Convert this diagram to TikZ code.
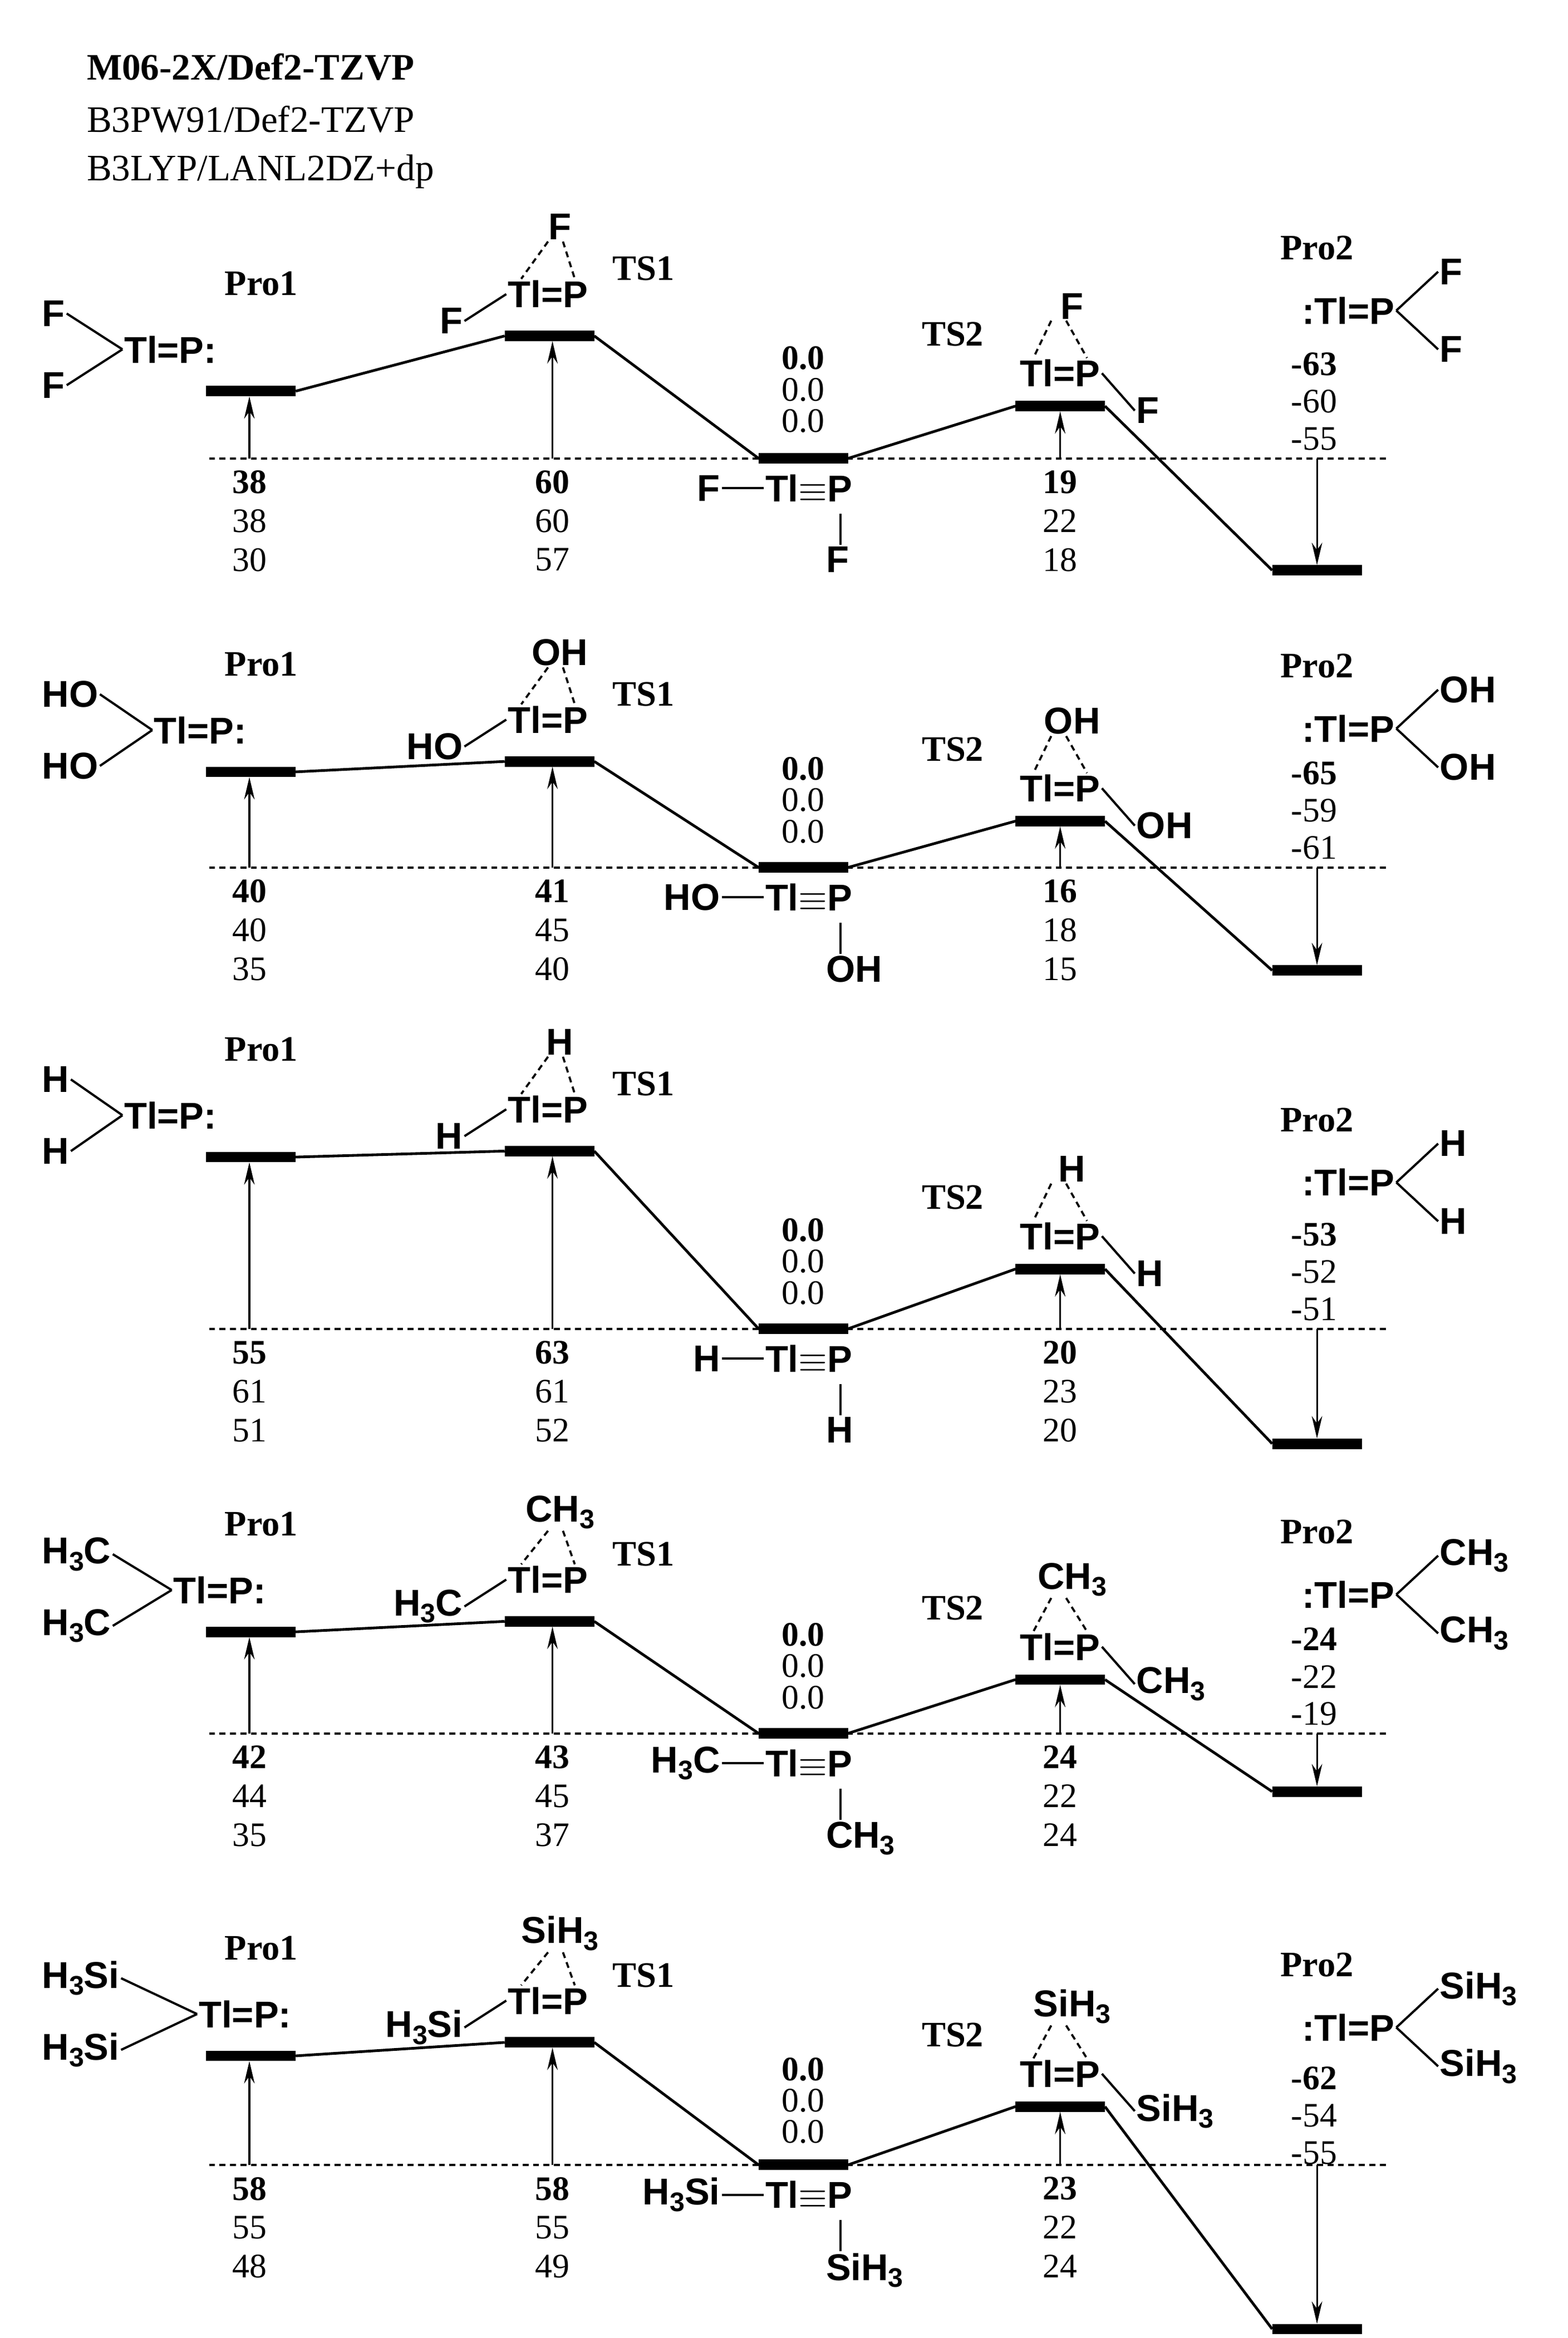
\documentclass[tikz,border=0pt]{standalone}
\usepackage{fontspec}
\setmainfont{Liberation Serif}
\newfontfamily\chemf{Liberation Sans}
\usetikzlibrary{calc,arrows.meta}
\newcommand{\sbt}[1]{\raisebox{-0.35ex}{\fontsize{18}{18}\selectfont #1}}
\tikzset{
 chem/.style={font=\chemf\bfseries\fontsize{25}{25}\selectfont, inner sep=1pt},
 num/.style={font=\fontsize{23}{23}\selectfont, inner sep=0pt},
 bnum/.style={font=\bfseries\fontsize{23}{23}\selectfont, inner sep=0pt},
 lab/.style={font=\bfseries\fontsize{24}{24}\selectfont, inner sep=0pt},
 bar/.style={line width=7pt},
 conn/.style={line width=1.8pt},
 bond/.style={line width=1.5pt},
 dbond/.style={line width=1.4pt, dash pattern=on 4pt off 3pt},
 arr/.style={line width=1.2pt, -{Stealth[length=15pt,width=7pt]}},
 base/.style={line width=1.5pt, dash pattern=on 4pt off 3pt}
}
\newcommand{\subL}{}\newcommand{\subR}{}
\newcommand{\panel}[8]{%
 \coordinate (#1dl) at (140,#2); \coordinate (#1dr) at (930,#2);
 \draw[base] (#1dl) -- (#1dr);
 \coordinate (#1aL) at (138,#3); \coordinate (#1aR) at (198,#3);
 \coordinate (#1bL) at (338,#4); \coordinate (#1bR) at (398,#4);
 \coordinate (#1cL) at (508,#2); \coordinate (#1cR) at (568,#2);
 \coordinate (#1dL) at (680,#5); \coordinate (#1dR) at (740,#5);
 \coordinate (#1eL) at (852,#6); \coordinate (#1eR) at (912,#6);
 \foreach \q in {a,b,c,d,e}{\draw[bar] (#1\q L) -- (#1\q R);}
 \draw[conn] (#1aR) -- (#1bL); \draw[conn] (#1bR) -- (#1cL);
 \draw[conn] (#1cR) -- (#1dL); \draw[conn] (#1dR) -- (#1eL);
 \coordinate (#1xa) at (167,#2); \coordinate (#1ya) at (167,#3+3.5);
 \coordinate (#1xb) at (370,#2); \coordinate (#1yb) at (370,#4+3.5);
 \coordinate (#1xd) at (710,#2); \coordinate (#1yd) at (710,#5+3.5);
 \coordinate (#1xe) at (882,#2); \coordinate (#1ye) at (882,#6-3.5);
 \draw[arr] (#1xa) -- (#1ya); \draw[arr] (#1xb) -- (#1yb);
 \draw[arr] (#1xd) -- (#1yd); \draw[arr] (#1xe) -- (#1ye);
 \node[lab] (#1Lp1) at (175,#3-72) {Pro1};
 \node[lab] (#1Lp2) at (882,#7-42) {Pro2};
 % Pro1
 \node[chem,anchor=west] (#1s1) at (27,#3-52) {\subL};
 \node[chem,anchor=west] (#1s2) at (27,#3-4) {\subL};
 \node[chem,anchor=west] (#1m1) at (27+#8,#3-28) {Tl=P:};
 \draw[bond] (#1s1.east) -- (#1m1.west); \draw[bond] (#1s2.east) -- (#1m1.west);
 % TS1
 \node[chem] (#1m2) at (367,#4-28) {Tl=P};
 \node[chem] (#1t2) at (375,#4-73) {\subR};
 \node[chem,anchor=east] (#1u2) at ($(#1m2.west)+(-28,18)$) {\subL};
 \draw[bond] (#1u2.east) -- (#1m2.west);
 \draw[dbond] ($(#1t2.south)+(-8,0)$) -- ($(#1m2.north west)+(10,0)$);
 \draw[dbond] ($(#1t2.south)+(2,0)$) -- ($(#1m2.north east)+(-10,0)$);
 \node[lab,anchor=west] (#1Lt1) at (410,#4-45) {TS1};
 % Int
 \node[chem,anchor=east] (#1m3) at (572,#2+20) {Tl\ensuremath{\equiv}P};
 \node[chem,anchor=east] (#1u3) at ($(#1m3.west)+(-28,0)$) {\subL};
 \draw[bond] (#1u3.east) -- (#1m3.west);
 \node[chem,anchor=north west] (#1v3) at (552,#2+58) {\subR};
 \draw[bond] (563,#2+37) -- (563,#2+58);
 % TS2
 \node[chem] (#1m4) at (710,#5-22) {Tl=P};
 \node[chem] (#1t4) at (718,#5-67) {\subR};
 \node[chem,anchor=west] (#1u4) at ($(#1m4.east)+(22,25)$) {\subR};
 \draw[bond] (#1m4.east) -- (#1u4.west);
 \draw[dbond] ($(#1t4.south)+(-14,0)$) -- ($(#1m4.north west)+(10,0)$);
 \draw[dbond] ($(#1t4.south)+(-4,0)$) -- ($(#1m4.north east)+(-10,0)$);
 \node[lab] (#1Lt2) at (638,#5-48) {TS2};
 % Pro2
 \node[chem] (#1m5) at (903,#7) {:Tl=P};
 \node[chem,anchor=west] (#1s5) at ($(#1m5.east)+(28,-26)$) {\subR};
 \node[chem,anchor=west] (#1r5) at ($(#1m5.east)+(28,26)$) {\subR};
 \draw[bond] (#1m5.east) -- (#1s5.west); \draw[bond] (#1m5.east) -- (#1r5.west);
}
\newcommand{\nums}[7][26]{%
 \node[bnum] (#2n1) at (#3,#4) {#5};
 \node[num] (#2n2) at (#3,#4+#1) {#6};
 \node[num] (#2n3) at (#3,#4+2*#1) {#7};
}
\begin{document}
\begin{tikzpicture}[x=1pt,y=-1pt]
\useasboundingbox (0,0) rectangle (1050,1566);
\node[anchor=west,font=\bfseries\fontsize{25}{25}\selectfont,inner sep=0pt] (h1) at (58,45) {M06-2X/Def2-TZVP};
\node[anchor=west,font=\fontsize{25}{25}\selectfont,inner sep=0pt] (h2) at (58,80) {B3PW91/Def2-TZVP};
\node[anchor=west,font=\fontsize{25}{25}\selectfont,inner sep=0pt] (h3) at (58,115) {B3LYP/LANL2DZ+dp};
% panel 1
\renewcommand{\subL}{F}\renewcommand{\subR}{F}
\panel{A}{307}{262}{225}{272}{382}{208}{55}
\nums{Aa}{167}{323}{38}{38}{30}\nums{Ab}{370}{323}{60}{60}{57}
\nums{Ad}{710}{323}{19}{22}{18}\nums[25]{Ae}{880}{244}{-63}{-60}{-55}
\nums[21]{Ac}{538}{240}{0.0}{0.0}{0.0}
% panel 2
\renewcommand{\subL}{HO}\renewcommand{\subR}{OH}
\panel{B}{581}{517}{510}{550}{650}{488}{75}
\nums{Ba}{167}{597}{40}{40}{35}\nums{Bb}{370}{597}{41}{45}{40}
\nums{Bd}{710}{597}{16}{18}{15}\nums[25]{Be}{880}{518}{-65}{-59}{-61}
\nums[21]{Bc}{538}{515}{0.0}{0.0}{0.0}
% panel 3
\renewcommand{\subL}{H}\renewcommand{\subR}{H}
\panel{C}{890}{775}{771}{850}{967}{792}{55}
\nums{Ca}{167}{906}{55}{61}{51}\nums{Cb}{370}{906}{63}{61}{52}
\nums{Cd}{710}{906}{20}{23}{20}\nums[25]{Ce}{880}{827}{-53}{-52}{-51}
\nums[21]{Cc}{538}{824}{0.0}{0.0}{0.0}
% panel 4
\renewcommand{\subL}{H\sbt{3}C}\renewcommand{\subR}{CH\sbt{3}}
\panel{D}{1161}{1093}{1086}{1125}{1200}{1068}{88}
\nums{Da}{167}{1177}{42}{44}{35}\nums{Db}{370}{1177}{43}{45}{37}
\nums{Dd}{710}{1177}{24}{22}{24}\nums[25]{De}{880}{1098}{-24}{-22}{-19}
\nums[21]{Dc}{538}{1095}{0.0}{0.0}{0.0}
% panel 5
\renewcommand{\subL}{H\sbt{3}Si}\renewcommand{\subR}{SiH\sbt{3}}
\panel{E}{1450}{1377}{1368}{1411}{1560}{1358}{105}
\nums{Ea}{167}{1466}{58}{55}{48}\nums{Eb}{370}{1466}{58}{55}{49}
\nums{Ed}{710}{1466}{23}{22}{24}\nums[25]{Ee}{880}{1392}{-62}{-54}{-55}
\nums[21]{Ec}{538}{1386}{0.0}{0.0}{0.0}
\end{tikzpicture}
\end{document}
